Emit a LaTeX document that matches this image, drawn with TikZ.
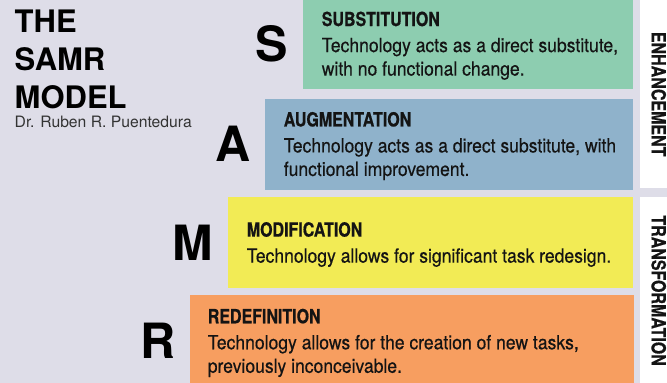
\documentclass[tikz,border=0pt]{standalone}
\usepackage{fontspec}
\setmainfont{TeX Gyre Heros}
\newfontfamily\condfont[FakeStretch=0.9, FakeBold=0.35]{TeX Gyre Heros}
\newfontfamily\headfont[FakeStretch=0.82, BoldFeatures={FakeBold=0.6}]{TeX Gyre Heros}
\usepackage{xcolor}
\usetikzlibrary{positioning}
\definecolor{bgcol}{RGB}{222,221,232}
\definecolor{subcol}{RGB}{141,205,176}
\definecolor{augcol}{RGB}{143,178,203}
\definecolor{modcol}{RGB}{242,235,85}
\definecolor{redcol}{RGB}{247,158,96}
\definecolor{inkcol}{RGB}{20,20,20}
\tikzset{
	stage/.style={rectangle, draw=none, minimum height=91pt, inner sep=0pt, anchor=north east},
	desc/.style={align=left, inner sep=0pt, text=inkcol, font=\condfont\fontsize{19.5}{23.5}\selectfont},
	letter/.style={inner sep=0pt, text=black, font=\fontsize{48.6}{50}\selectfont\bfseries},
	panel/.style={rectangle, fill=white, minimum width=27pt, inner sep=0pt, anchor=north west},
	sidelabel/.style={inner sep=0pt, rotate=-90, text=inkcol, font=\headfont\fontsize{19.5}{20}\selectfont\bfseries}
}
\newcommand{\stagehead}[1]{{\headfont\bfseries #1}\\[2.5pt]}

\begin{document}
\begin{tikzpicture}[
	x=1pt, y=-1pt,
	titletext/.style={align=left, inner sep=0pt, text=black, font=\fontsize{31}{38.3}\selectfont\bfseries},
	authortext/.style={inner sep=0pt, text=black!80, font=\fontsize{15.7}{18}\selectfont},
	]
	
	%Background
	\fill[bgcol] (0,0) rectangle (667,383);
	\useasboundingbox (0,0) rectangle (667,383);
	
	%Title
	\node[titletext, anchor=north west] (title) at (14.5,9.3) {THE\\SAMR\\MODEL};
	\node[authortext, below=6.5pt of title.south west, anchor=north west] (author) {Dr. Ruben R. Puentedura};
	
	%Boxes
	\node[stage, fill=subcol, minimum width=330pt] (sbox) at (633,-2) {};
	\node[stage, fill=augcol, minimum width=368pt, below=9pt of sbox.south east, anchor=north east] (abox) {};
	\node[stage, fill=modcol, minimum width=405pt, below=7pt of abox.south east, anchor=north east] (mbox) {};
	\node[stage, fill=redcol, minimum width=444pt, below=7pt of mbox.south east, anchor=north east, xshift=1pt] (rbox) {};
	
	%Texts
	\node[desc, right=19pt of sbox.west, yshift=-2pt] (stext) {\stagehead{SUBSTITUTION}Technology acts as a direct substitute,\\with no functional change.};
	\node[desc, right=19pt of abox.west, yshift=-2pt] (atext) {\stagehead{AUGMENTATION}Technology acts as a direct substitute, with\\functional improvement.};
	\node[desc, right=19pt of mbox.west, yshift=-2pt] (mtext) {\stagehead{MODIFICATION}Technology allows for significant task redesign.};
	\node[desc, right=18pt of rbox.west, yshift=-2pt] (rtext) {\stagehead{REDEFINITION}Technology allows for the creation of new tasks,\\previously inconceivable.};
	
	%Letters
	\node[letter, left=14pt of sbox] (sletter) {S};
	\node[letter, left=14pt of abox] (aletter) {A};
	\node[letter, left=14pt of mbox] (mletter) {M};
	\node[letter, left=14pt of rbox] (rletter) {R};
	
	%Side panels
	\node[panel, minimum height=188pt] (enh) at (640,0) {};
	\node[panel, minimum height=188pt, below=8pt of enh.south west, anchor=north west] (trans) {};
	\node[sidelabel] (enhlabel) at ([xshift=5pt]enh.center) {ENHANCEMENT};
	\node[sidelabel] (translabel) at ([xshift=5pt]trans.center) {TRANSFORMATION};
\end{tikzpicture}
\end{document}
